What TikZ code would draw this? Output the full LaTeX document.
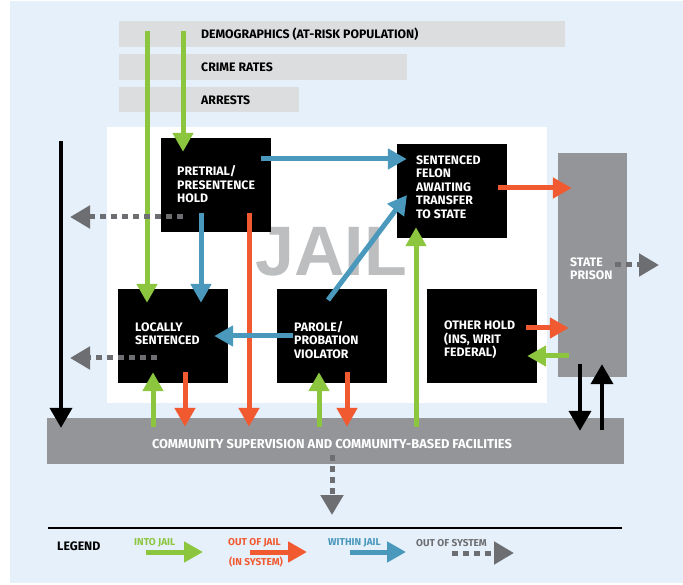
\documentclass[tikz,border=0pt]{standalone}
\usepackage{fontspec}
\setmainfont{Fira Sans}
\newfontfamily\jailfont{Liberation Sans}
\usetikzlibrary{arrows.meta}
\definecolor{bgblue}{HTML}{E6F0FA}
\definecolor{barg}{HTML}{DCDDDF}
\definecolor{darkg}{HTML}{939598}
\definecolor{jailg}{HTML}{BCBEC0}
\definecolor{dotg}{HTML}{6D6E71}
\definecolor{ingreen}{HTML}{8CC63F}
\definecolor{outred}{HTML}{F15A31}
\definecolor{inblue}{HTML}{4A98BC}
\tikzset{
	into/.style={draw=ingreen, line width=5pt, -{Triangle[width=20pt,length=19pt]}},
	outof/.style={draw=outred, line width=5pt, -{Triangle[width=20pt,length=19pt]}},
	within/.style={draw=inblue, line width=5pt, -{Triangle[width=20pt,length=19pt]}},
	outsys/.style={draw=dotg, line width=5pt, dash pattern=on 6pt off 5pt, -{Triangle[width=22pt,length=20pt]}},
	flow/.style={draw=black, line width=4pt, -{Triangle[width=22pt,length=20pt]}},
	lbl/.style={anchor=west, align=left, inner sep=0pt, font=\bfseries\fontsize{12.3}{13.5}\selectfont}
}
\begin{document}
\begin{tikzpicture}[x=1pt, y=-1pt]
	\useasboundingbox (0,0) rectangle (683,585);
	\fill[bgblue] (10,1) rectangle (683,583);
	\begin{scope} [every node/.style={fill=barg, inner sep=0pt, anchor=north west}]
		\node[minimum width=446pt, minimum height=26pt] (dem) at (119,21){};
		\node[minimum width=288pt, minimum height=26pt] (cri) at (119,54){};
		\node[minimum width=180pt, minimum height=25pt] (arr) at (119,87){};
	\end{scope}
	\node[lbl] (demtxt) at (201,34) {DEMOGRAPHICS (AT-RISK POPULATION)};
	\node[lbl] (critxt) at (201,67) {CRIME RATES};
	\node[lbl] (arrtxt) at (201,100) {ARRESTS};
	\node[fill=white, inner sep=0pt, minimum width=440pt, minimum height=276pt, anchor=north west] (jail) at (107,127){};
	\node[text=jailg, inner sep=0pt, anchor=base, font=\jailfont\bfseries\fontsize{70}{70}\selectfont] (jailtxt) at (331,276) {JAIL};
	\begin{scope} [every node/.style={fill=black, inner sep=0pt, minimum width=110pt, minimum height=94pt}]
		\node (pre) at (216,185){};
		\node (loc) at (173,336){};
		\node (par) at (331.5,336){};
		\node (fel) at (452,191){};
		\node (oth) at (482,336){};
	\end{scope}
	\node[fill=darkg, inner sep=0pt, minimum width=69pt, minimum height=224pt] (pri) at (592.5,265){};
	\node[fill=darkg, inner sep=0pt, minimum width=577pt, minimum height=46pt] (com) at (335.5,441){};
	\begin{scope} [every node/.style={lbl, text=white}]
		\node (pretxt) at (177,184.5) {PRETRIAL/\\PRESENTENCE\\HOLD};
		\node (loctxt) at (135,333.5) {LOCALLY\\SENTENCED};
		\node (partxt) at (294,340) {PAROLE/\\PROBATION\\VIOLATOR};
		\node (feltxt) at (416,187) {SENTENCED\\FELON\\AWAITING\\TRANSFER\\TO STATE};
		\node (othtxt) at (444,340) {OTHER HOLD\\(INS, WRIT\\FEDERAL)};
		\node (pritxt) at (570,268.5) {STATE\\PRISON};
		\node[anchor=center, font=\bfseries\fontsize{12.9}{13.5}\selectfont] (comtxt) at (332,444) {COMMUNITY SUPERVISION AND COMMUNITY-BASED FACILITIES};
	\end{scope}
	\coordinate (g1) at (147,31);
	\coordinate (g2) at (183,31);
	\coordinate (g3) at (153,427);
	\coordinate (g4) at (319,427);
	\coordinate (g5) at (416,427);
	\coordinate (g6) at (569,356);
	\draw[into] (g1) -- ([yshift=-14pt]g1 |- loc.north);
	\draw[into] (g2) -- ([yshift=-14pt]g2 |- pre.north);
	\draw[into] (g3) -- ([yshift=11pt]g3 |- loc.south);
	\draw[into] (g4) -- ([yshift=11pt]g4 |- par.south);
	\draw[into] (g5) -- ([yshift=11pt]g5 |- fel.south);
	\draw[into] (g6) -- ([xshift=-10pt]g6 -| oth.east);
	\coordinate (r1) at (498,188);
	\coordinate (r2) at (526,328);
	\coordinate (r3) at (249,213);
	\coordinate (r4) at (185,372);
	\coordinate (r5) at (347,372);
	\draw[outof] (r1) -- ([xshift=14pt]r1 -| pri.west);
	\draw[outof] (r2) -- ([xshift=11pt]r2 -| pri.west);
	\draw[outof] (r3) -- ([yshift=-9pt]r3 |- com.north);
	\draw[outof] (r4) -- ([yshift=-9pt]r4 |- com.north);
	\draw[outof] (r5) -- ([yshift=-9pt]r5 |- com.north);
	\coordinate (b1) at (261,159);
	\coordinate (b2) at (201,213);
	\coordinate (b3) at (293,336);
	\coordinate (b4) at (328,300);
	\coordinate (b4e) at (407,195);
	\draw[within] (b1) -- ([xshift=10pt]b1 -| fel.west);
	\draw[within] (b2) -- ([yshift=-14pt]b2 |- loc.north);
	\draw[within] (b3) -- ([xshift=-14pt]b3 -| loc.east);
	\draw[within] (b4) -- (b4e);
	\coordinate (d1) at (183,217);
	\coordinate (d1e) at (70,217);
	\coordinate (d2) at (157,358);
	\coordinate (d2e) at (70,358);
	\coordinate (d3) at (615,265);
	\coordinate (d3e) at (659,265);
	\coordinate (d4) at (332,455);
	\coordinate (d4e) at (332,515);
	\draw[outsys] (d1) -- (d1e);
	\draw[outsys] (d2) -- (d2e);
	\draw[outsys] (d3) -- (d3e);
	\draw[outsys] (d4) -- (d4e);
	\coordinate (k1) at (61,141);
	\coordinate (k2) at (580,364);
	\coordinate (k3) at (602,430);
	\draw[flow] (k1) -- ([yshift=-10pt]k1 |- com.north);
	\draw[flow] (k2) -- ([yshift=-13pt]k2 |- com.north);
	\draw[flow] (k3) -- ([yshift=13pt]k3 |- pri.south);
	\coordinate (lgl) at (48,528);
	\coordinate (lgr) at (622,528);
	\draw[line width=1.5pt] (lgl) -- (lgr);
	\node[lbl] (legend) at (57,546) {LEGEND};
	\begin{scope} [every node/.style={anchor=west, inner sep=0pt, font=\bfseries\fontsize{10}{12}\selectfont}]
		\node[text=ingreen] (lin) at (134,543) {INTO JAIL};
		\node[text=outred] (lout) at (228,543) {OUT OF JAIL};
		\node[text=outred] (lsys) at (229,562) {(IN SYSTEM)};
		\node[text=inblue] (lwith) at (328,543) {WITHIN JAIL};
		\node[text=dotg] (lgone) at (416,543) {OUT OF SYSTEM};
	\end{scope}
	\coordinate (la) at (146,552);
	\coordinate (lb) at (250,552);
	\coordinate (lc) at (350,552);
	\coordinate (ld) at (452,553);
	\draw[into] (la) -- ++(57,0);
	\draw[outof] (lb) -- ++(57,0);
	\draw[within] (lc) -- ++(56,0);
	\draw[outsys] (ld) -- ++(62,0);
\end{tikzpicture}
\end{document}
